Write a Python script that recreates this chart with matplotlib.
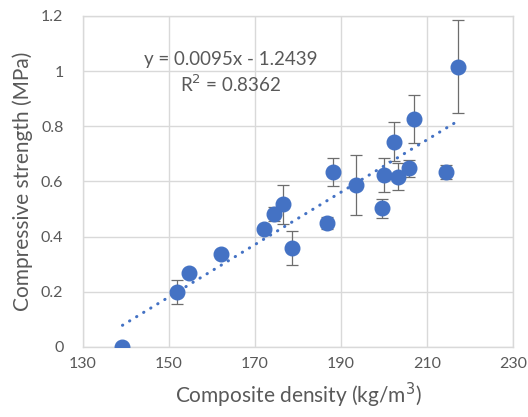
import numpy as np
import matplotlib.pyplot as plt

# composite density (kg/m3), compressive strength (MPa), error (MPa)
density = [139.2, 151.8, 154.7, 162.2, 172.2, 174.4, 176.4, 178.5, 186.7,
           188.1, 193.5, 199.5, 200.0, 202.2, 203.2, 205.8, 207.0, 214.3, 217.1]
strength = [0.0, 0.198, 0.267, 0.337, 0.428, 0.483, 0.517, 0.359, 0.448,
            0.634, 0.587, 0.502, 0.623, 0.744, 0.617, 0.647, 0.826, 0.633, 1.016]
err = [0.0, 0.044, 0.0, 0.0, 0.01, 0.026, 0.07, 0.062, 0.022,
       0.05, 0.109, 0.033, 0.06, 0.07, 0.048, 0.03, 0.087, 0.026, 0.168]

slope, intercept = 0.0095, -1.2439
r2 = 0.8362

plt.rcParams["font.family"] = ["Lato", "DejaVu Sans"]
text_c = "#595959"
grid_c = "#d9d9d9"
blue = "#4472c4"

fig = plt.figure(figsize=(5.28, 4.17), dpi=100)
ax = fig.add_axes([0.157, 0.168, 0.815, 0.794])

ax.errorbar(density, strength, yerr=err, fmt="none", ecolor="#6d6d6d",
            elinewidth=0.9, capsize=4.5, capthick=0.9, zorder=2)
ax.plot(density, strength, "o", color=blue, markersize=10.5, zorder=3)

xt = np.array([min(density), max(density)])
ax.plot(xt, slope * xt + intercept, color=blue, linewidth=2.2,
        linestyle=(0, (0.1, 2.6)), dash_capstyle="round", zorder=2.5)

ax.text(164.4, 1.04, "y = 0.0095x - 1.2439", ha="center", va="center",
        fontsize=13.5, color=text_c)
ax.text(164.4, 0.953, "R$^2$ = 0.8362", ha="center", va="center",
        fontsize=13.5, color=text_c)

ax.set_xlim(130, 230)
ax.set_ylim(0, 1.2)
ax.set_xticks([130, 150, 170, 190, 210, 230])
ax.set_yticks([0, 0.2, 0.4, 0.6, 0.8, 1.0, 1.2])
ax.set_yticklabels(["0", "0.2", "0.4", "0.6", "0.8", "1", "1.2"])
ax.grid(True, color=grid_c, linewidth=1.0, zorder=0)
ax.set_axisbelow(True)
for s in ax.spines.values():
    s.set_color(grid_c)
    s.set_linewidth(1.0)
ax.tick_params(length=0, labelsize=11.5, colors=text_c)
ax.tick_params(axis="y", pad=14)
ax.tick_params(axis="x", pad=7)

ax.set_xlabel("Composite density (kg/m$^3$)", fontsize=15, color=text_c, labelpad=7)
ax.set_ylabel("Compressive strength (MPa)", fontsize=15, color=text_c, labelpad=6)

fig.savefig("out.png", dpi=100)
